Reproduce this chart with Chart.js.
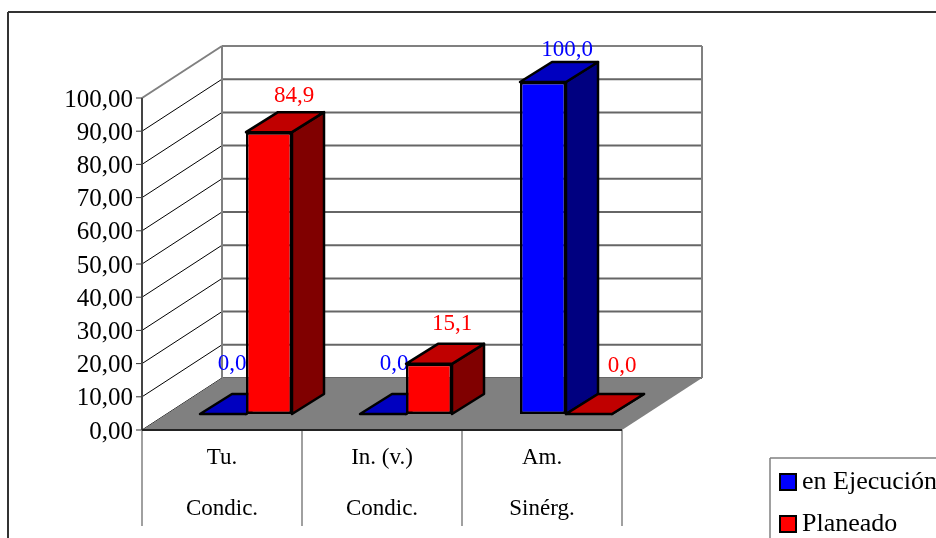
<!DOCTYPE html>
<html>
<head>
<meta charset="utf-8">
<style>
  html, body { margin: 0; padding: 0; background: #fff; overflow: hidden; }
  canvas { display: block; }
</style>
<script src="https://cdn.jsdelivr.net/npm/chart.js@4/dist/chart.umd.min.js"></script>
</head>
<body>
<canvas id="chart" width="936" height="538"></canvas>
<script>
const categories = [['Tu.', 'Condic.'], ['In. (v.)', 'Condic.'], ['Am.', 'Sinérg.']];
const enEjecucion = [0, 0, 100];
const planeado = [84.9, 15.1, 0];
const yTicks = [0, 10, 20, 30, 40, 50, 60, 70, 80, 90, 100];

const SERIF = '"Liberation Serif", serif';
// 3D look: back wall offset, bar depth, where bars sit on the floor
const WALL = { x: 80, y: -52 };
const DEPTH = { x: 32, y: -20 };
const SEAT = { x: 24, y: -16 };
// the labels in the picture are not placed regularly
const labelShift = [
    [[9, -50], [11, -50], [24, -32]],
    [[25, -36], [23, -40], [33, -48]]
];

function line(ctx, x1, y1, x2, y2, color, width) {
    ctx.strokeStyle = color;
    ctx.lineWidth = width;
    ctx.beginPath();
    ctx.moveTo(x1, y1);
    ctx.lineTo(x2, y2);
    ctx.stroke();
}

function face(ctx, points, color) {
    ctx.fillStyle = color;
    ctx.strokeStyle = '#000';
    ctx.lineWidth = 2.5;
    ctx.lineJoin = 'round';
    ctx.beginPath();
    points.forEach((p, i) => i ? ctx.lineTo(p[0], p[1]) : ctx.moveTo(p[0], p[1]));
    ctx.closePath();
    ctx.fill();
    ctx.stroke();
}

function drawBars3d(chart, index) {
    const ctx = chart.ctx;
    const ds = chart.data.datasets[index];
    const meta = chart.getDatasetMeta(index);
    ctx.save();
    ctx.translate(SEAT.x, SEAT.y);
    meta.data.forEach(bar => {
        const l = bar.x - bar.width / 2, r = bar.x + bar.width / 2;
        const t = bar.y, b = bar.base;
        face(ctx, [[r, t], [r + DEPTH.x, t + DEPTH.y], [r + DEPTH.x, b + DEPTH.y], [r, b]], ds.sideColor);
        face(ctx, [[l, t], [l + DEPTH.x, t + DEPTH.y], [r + DEPTH.x, t + DEPTH.y], [r, t]], ds.topColor);
    });
    meta.controller.draw();
    ctx.restore();
}

const threeD = {
    id: 'threeD',
    beforeDatasetsDraw(chart) {
        const ctx = chart.ctx;
        const { left, right, top, bottom } = chart.chartArea;
        const y = chart.scales.y;
        ctx.save();

        // outer frame, cut by the page on the right and bottom
        line(ctx, 8, 12, 936, 12, '#333', 2);
        line(ctx, 8, 12, 8, 538, '#333', 2);

        // walls
        yTicks.forEach(t => {
            const py = y.getPixelForValue(t);
            const top100 = t === yTicks[yTicks.length - 1];
            line(ctx, left + WALL.x, py + WALL.y, right + WALL.x, py + WALL.y, top100 ? '#808080' : '#666', 2);
            line(ctx, left, py, left + WALL.x, py + WALL.y, top100 ? '#808080' : '#000', top100 ? 2 : 1);
            line(ctx, left - 6, py, left, py, '#333', 1);
        });
        line(ctx, left + WALL.x, top + WALL.y, left + WALL.x, bottom + WALL.y, '#808080', 2);
        line(ctx, right + WALL.x, top + WALL.y, right + WALL.x, bottom + WALL.y, '#808080', 2);
        line(ctx, left, top, left, bottom, '#444', 2);

        // floor
        ctx.fillStyle = '#808080';
        ctx.beginPath();
        ctx.moveTo(left, bottom);
        ctx.lineTo(right, bottom);
        ctx.lineTo(right + WALL.x, bottom + WALL.y);
        ctx.lineTo(left + WALL.x, bottom + WALL.y);
        ctx.closePath();
        ctx.fill();

        // category dividers under the floor
        const step = (right - left) / categories.length;
        for (let i = 0; i <= categories.length; i++) {
            line(ctx, left + i * step, bottom, left + i * step, 526, '#808080', 1.5);
        }
        line(ctx, left, bottom, right, bottom, '#222', 2);

        // value labels go under the bars, the red bars cover a bit of them
        ctx.font = '23px ' + SERIF;
        ctx.textAlign = 'center';
        ctx.textBaseline = 'middle';
        chart.data.datasets.forEach((ds, d) => {
            const meta = chart.getDatasetMeta(d);
            ds.data.forEach((v, i) => {
                const bar = meta.data[i];
                ctx.fillStyle = ds.backgroundColor;
                ctx.fillText(v.toFixed(1).replace('.', ','),
                    bar.x + SEAT.x + labelShift[d][i][0], bar.y + SEAT.y + labelShift[d][i][1]);
            });
        });
        ctx.restore();
    },
    // chart.js paints the last dataset first, here blue has to go under red
    beforeDatasetDraw() {
        return false;
    },
    afterDatasetsDraw(chart) {
        drawBars3d(chart, 0);
        drawBars3d(chart, 1);
    },
    afterDraw(chart) {
        const ctx = chart.ctx;
        ctx.save();
        // legend box, also cut by the page
        line(ctx, 770, 458, 936, 458, '#808080', 1.5);
        line(ctx, 770, 458, 770, 538, '#808080', 1.5);
        ctx.font = '26px ' + SERIF;
        ctx.textBaseline = 'middle';
        ctx.textAlign = 'left';
        chart.data.datasets.forEach((ds, i) => {
            const py = 482 + i * 42;
            ctx.fillStyle = ds.backgroundColor;
            ctx.strokeStyle = '#000';
            ctx.lineWidth = 2;
            ctx.fillRect(780, py - 8, 16, 16);
            ctx.strokeRect(780, py - 8, 16, 16);
            ctx.fillStyle = '#000';
            ctx.fillText(ds.label, 802, py);
        });
        ctx.restore();
    }
};

new Chart(document.getElementById('chart'), {
    type: 'bar',
    data: {
        labels: categories,
        datasets: [
            {
                label: 'en Ejecución', data: enEjecucion, clip: false,
                backgroundColor: '#0000ff', topColor: '#0000c0', sideColor: '#000080',
                borderColor: '#000', borderWidth: 2.5, borderSkipped: false
            },
            {
                label: 'Planeado', data: planeado, clip: false,
                backgroundColor: '#ff0000', topColor: '#c00000', sideColor: '#800000',
                borderColor: '#000', borderWidth: 2.5, borderSkipped: false
            }
        ]
    },
    options: {
        responsive: false,
        animation: false,
        datasets: { bar: { barPercentage: 1, categoryPercentage: 0.575 } },
        layout: { padding: { top: 98, left: 0, right: 314, bottom: 0 } },
        plugins: { legend: { display: false }, title: { display: false }, tooltip: { enabled: false } },
        scales: {
            x: {
                grid: { display: false, drawTicks: false },
                border: { display: false },
                afterFit: s => { s.height = 108; },
                ticks: {
                    color: '#000',
                    maxRotation: 0,
                    padding: 2,
                    font: { family: SERIF, size: 23, lineHeight: 2.22 }
                }
            },
            y: {
                min: 0,
                max: 100,
                grid: { display: false, drawTicks: false },
                border: { display: false },
                afterFit: s => { s.width = 142; },
                ticks: {
                    stepSize: 10,
                    color: '#000',
                    padding: 9,
                    labelOffset: 2,
                    font: { family: SERIF, size: 25 },
                    callback: v => v.toFixed(2).replace('.', ',')
                }
            }
        }
    },
    plugins: [threeD]
});
</script>
</body>
</html>
